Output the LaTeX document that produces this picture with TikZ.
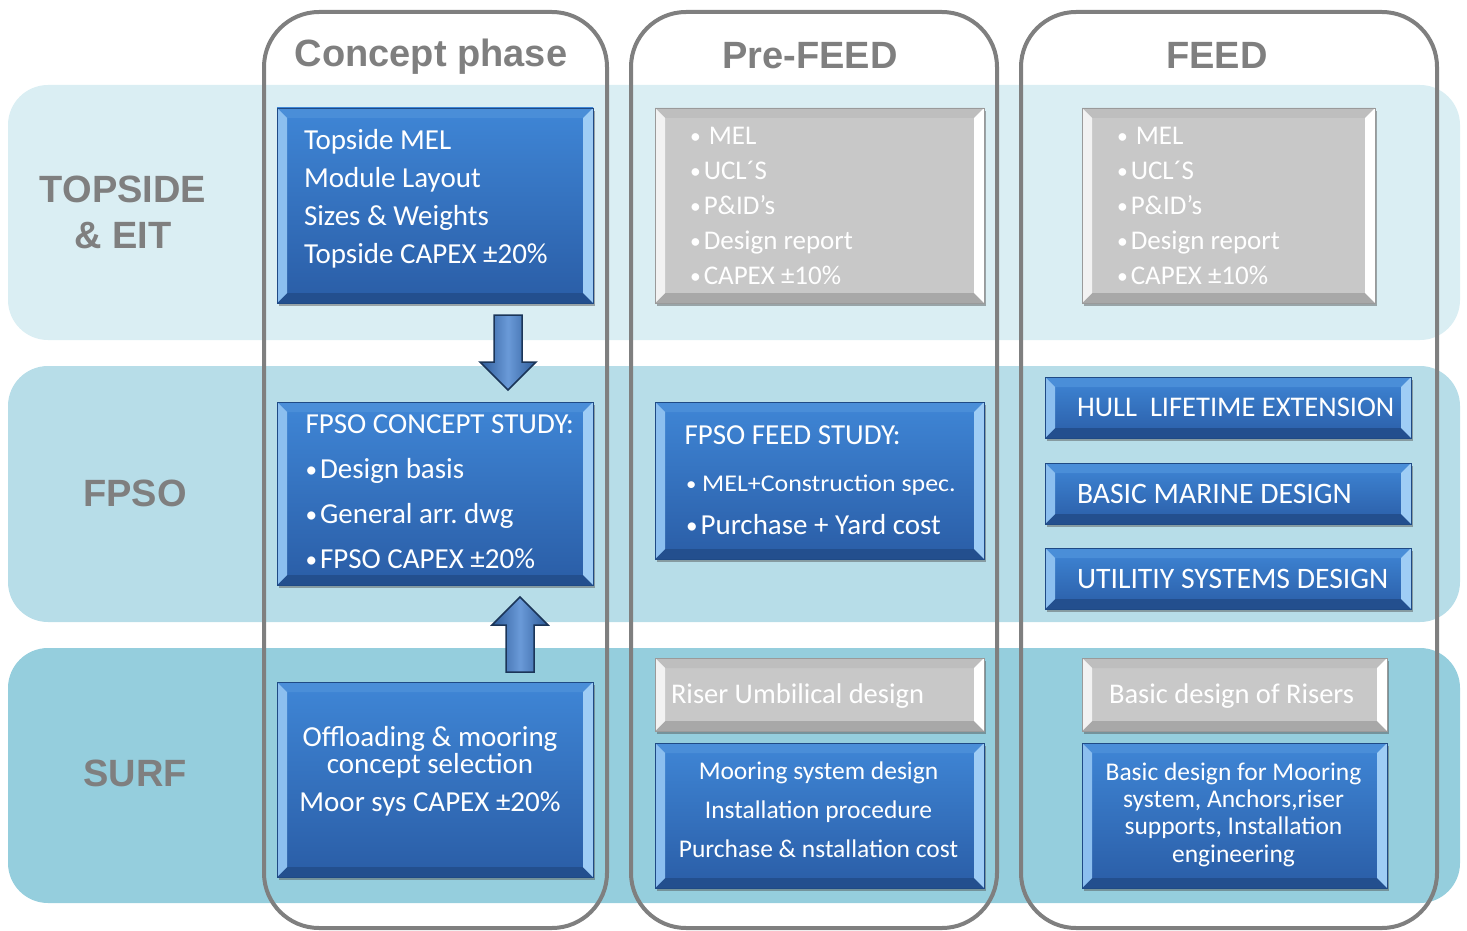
\documentclass[tikz,border=0pt]{standalone}
\usepackage{fontspec}
\usepackage{graphicx}
\setmainfont{Carlito}
\newfontfamily\hdrfont{Liberation Sans}
\usetikzlibrary{calc,shadows}
\frenchspacing

\definecolor{bandA}{HTML}{DAEEF3}
\definecolor{bandB}{HTML}{B7DDE8}
\definecolor{bandC}{HTML}{95CEDD}
\definecolor{colline}{HTML}{7F7F7F}
\definecolor{hdr}{HTML}{7F7F7F}
\definecolor{bluetop}{HTML}{3F86D6}
\definecolor{bluebot}{HTML}{2A5DA6}
\definecolor{blueedge}{HTML}{1F4A85}
\definecolor{bevL}{HTML}{8CBFEF}
\definecolor{bevR}{HTML}{9FCDF5}
\definecolor{bevT}{HTML}{4A8ED8}
\definecolor{bevB}{HTML}{234F8E}
\definecolor{boxgray}{HTML}{C8C8C8}
\definecolor{grayedge}{HTML}{9A9A9A}
\definecolor{gbevL}{HTML}{F2F2F2}
\definecolor{gbevR}{HTML}{FFFFFF}
\definecolor{gbevT}{HTML}{BEBEBE}
\definecolor{gbevB}{HTML}{A8A8A8}
\definecolor{arrdark}{HTML}{2E5C9A}
\definecolor{arrlight}{HTML}{6A9AD8}
\definecolor{arredge}{HTML}{1B3558}

\newcommand\bevelfill[5]{%
  \path (path picture bounding box.north west) coordinate (bNW)
        (path picture bounding box.north east) coordinate (bNE)
        (path picture bounding box.south west) coordinate (bSW)
        (path picture bounding box.south east) coordinate (bSE);
  \fill[#3] (bNW) -- (bNE) -- ([shift={(-#5,-#5)}]bNE) -- ([shift={(#5,-#5)}]bNW) -- cycle;
  \fill[#4] (bSW) -- (bSE) -- ([shift={(-#5,#5)}]bSE) -- ([shift={(#5,#5)}]bSW) -- cycle;
  \fill[#1] (bNW) -- ([shift={(#5,-#5)}]bNW) -- ([shift={(#5,#5)}]bSW) -- (bSW) -- cycle;
  \fill[#2] (bNE) -- ([shift={(-#5,-#5)}]bNE) -- ([shift={(-#5,#5)}]bSE) -- (bSE) -- cycle;
}
\newcommand\bu{\raisebox{1pt}{\scalebox{0.8}{•}}\hspace{3pt}}

\tikzset{
  band/.style={rounded corners=40pt},
  column/.style={draw=colline, line width=4pt, rounded corners=55pt},
  bx/.style={rectangle, inner sep=0pt, outer sep=0pt,
    drop shadow={shadow xshift=2pt, shadow yshift=-3pt, opacity=0.45, fill=black!70}},
  bluebox/.style={bx, draw=blueedge, line width=0.8pt, top color=bluetop, bottom color=bluebot,
    path picture={\bevelfill{bevL}{bevR}{bevT}{bevB}{10pt}}},
  graybox/.style={bx, draw=grayedge, line width=0.8pt, fill=boxgray,
    path picture={\bevelfill{gbevL}{gbevR}{gbevT}{gbevB}{10pt}}},
  boxtext/.style={text=white, inner sep=0pt, outer sep=0pt},
  hdrtext/.style={text=hdr, inner sep=0pt, font=\hdrfont\bfseries\fontsize{38}{46}\selectfont},
  blockarrow/.style={draw=arredge, line width=1.5pt, left color=arrdark, right color=arrdark, middle color=arrlight},
}

\begin{document}
\begin{tikzpicture}[x=1pt,y=-1pt]
\useasboundingbox (0,0) rectangle (1467,931);

% row bands
\fill[bandA, band] (8,85) rectangle (1460,340);
\fill[bandB, band] (8,366) rectangle (1460,622);
\fill[bandC, band] (8,648) rectangle (1460,903);

% column outlines
\draw[column] (264,12) rectangle (607,928);
\draw[column] (631,12) rectangle (997,928);
\draw[column] (1021,12) rectangle (1437,928);

% headers
\node[hdrtext, anchor=base] (hConcept) at (431,67) {Concept phase};
\node[hdrtext, anchor=base] (hPre) at (810,69) {Pre-FEED};
\node[hdrtext, anchor=base] (hFeed) at (1217,69) {FEED};

% row labels
\node[hdrtext, align=center] (rTop) at (123,212) {TOPSIDE\\\& EIT};
\node[hdrtext] (rFpso) at (135,493) {FPSO};
\node[hdrtext] (rSurf) at (135,773) {SURF};

% concept column boxes
\node[bluebox, minimum width=316pt, minimum height=195pt] (ctop) at (435,205.5) {};
\node[bluebox, minimum width=316pt, minimum height=183pt] (cfpso) at (435,493.5) {};
\node[bluebox, minimum width=316pt, minimum height=195pt] (csurf) at (435,779.5) {};

\node[boxtext, font=\fontsize{29}{38}\selectfont, align=left, anchor=west] (ctopT) at (304,198.7)
  {Topside MEL\\Module Layout\\Sizes \& Weights\\Topside CAPEX ±20\%};
\node[boxtext, font=\fontsize{29}{45}\selectfont, align=left, anchor=west] (cfpsoT) at (305.5,491.8)
  {FPSO CONCEPT STUDY:\\\bu Design basis\\\bu General arr. dwg\\\bu FPSO CAPEX ±20\%};
\node[boxtext, font=\fontsize{29}{27}\selectfont, align=center] (csurfT) at (430,771)
  {Offloading \& mooring\\concept selection\\[11pt]Moor sys CAPEX ±20\%};

% arrows
\coordinate (a1) at ($(ctop.south)+(73pt,-12pt)$);
\coordinate (a2) at ($(cfpso.north)+(73pt,12pt)$);
\draw[blockarrow] let \p1=(a1), \p2=(a2) in
  (\x1-14pt,\y1) -- (\x1+14pt,\y1) -- (\x1+14pt,\y2+28pt) -- (\x1+28pt,\y2+28pt)
  -- (\x1,\y2) -- (\x1-28pt,\y2+28pt) -- (\x1-14pt,\y2+28pt) -- cycle;
\coordinate (a3) at ($(csurf.north)+(85pt,10pt)$);
\coordinate (a4) at ($(cfpso.south)+(85pt,-12pt)$);
\draw[blockarrow] let \p3=(a3), \p4=(a4) in
  (\x3-14pt,\y3) -- (\x3+14pt,\y3) -- (\x3+14pt,\y4-28pt) -- (\x3+28pt,\y4-28pt)
  -- (\x3,\y4) -- (\x3-28pt,\y4-28pt) -- (\x3-14pt,\y4-28pt) -- cycle;

% pre-FEED column
\node[graybox, minimum width=329pt, minimum height=195pt] (ptop) at (819.5,205.5) {};
\node[boxtext, font=\fontsize{27}{35}\selectfont, align=left, anchor=west] (ptopT) at (690,206.3)
  {\raisebox{1pt}{\scalebox{0.8}{•}}\hspace{8pt}MEL\\\bu UCL´S\\\bu P\&ID’s\\\bu Design report\\\bu CAPEX ±10\%};

\node[bluebox, minimum width=329pt, minimum height=157pt] (pfpso) at (819.5,480.5) {};
\node[boxtext, font=\fontsize{29}{35}\selectfont, anchor=base west] (pfT1) at (684.5,444) {FPSO FEED STUDY:};
\node[boxtext, font=\fontsize{24}{30}\selectfont, anchor=base west] (pfT2) at (686,491.7) {\scalebox{1.08}[1]{\raisebox{1pt}{\scalebox{0.8}{•}} MEL+Construction spec.}};
\node[boxtext, font=\fontsize{29}{35}\selectfont, anchor=base west] (pfT3) at (686,534) {\bu Purchase + Yard cost};

\node[graybox, minimum width=329pt, minimum height=73pt] (priser) at (819.5,694.5) {};
\node[boxtext, font=\fontsize{28.5}{34}\selectfont, anchor=base west] (priserT) at (671,703) {Riser Umbilical design};

\node[bluebox, minimum width=329pt, minimum height=145pt] (pmoor) at (819.5,815.5) {};
\node[boxtext, font=\fontsize{25.5}{39}\selectfont, align=center] (pmoorT) at (818.5,810)
  {Mooring system design\\Installation procedure\\Purchase \& nstallation cost};

% FEED column
\node[graybox, minimum width=293pt, minimum height=195pt] (ftop) at (1228.5,205.5) {};
\node[boxtext, font=\fontsize{27}{35}\selectfont, align=left, anchor=west] (ftopT) at (1117,206.3)
  {\raisebox{1pt}{\scalebox{0.8}{•}}\hspace{8pt}MEL\\\bu UCL´S\\\bu P\&ID’s\\\bu Design report\\\bu CAPEX ±10\%};

\node[bluebox, minimum width=366pt, minimum height=61pt] (fhull) at (1228,407.5) {};
\node[bluebox, minimum width=366pt, minimum height=61pt] (fmarine) at (1228,493.5) {};
\node[bluebox, minimum width=366pt, minimum height=61pt] (futil) at (1228,578.5) {};
\node[boxtext, font=\fontsize{28.5}{34}\selectfont, anchor=west] (fhullT) at (1077,407.5) {HULL\hspace{13pt}LIFETIME EXTENSION};
\node[boxtext, font=\fontsize{29.7}{34}\selectfont, anchor=west] (fmarineT) at (1077,493.5) {BASIC MARINE DESIGN};
\node[boxtext, font=\fontsize{29.7}{34}\selectfont, anchor=west] (futilT) at (1077,578.5) {UTILITIY SYSTEMS DESIGN};

\node[graybox, minimum width=305pt, minimum height=73pt] (friser) at (1234.5,694.5) {};
\node[boxtext, font=\fontsize{28.5}{34}\selectfont, anchor=base west] (friserT) at (1109,703) {Basic design of Risers};

\node[bluebox, minimum width=305pt, minimum height=145pt] (fmoor) at (1234.5,815.5) {};
\node[boxtext, font=\fontsize{25.5}{27.3}\selectfont, align=center] (fmoorT) at (1233.5,814.5)
  {Basic design for Mooring\\system, Anchors,riser\\supports, Installation\\engineering};

\end{tikzpicture}
\end{document}
